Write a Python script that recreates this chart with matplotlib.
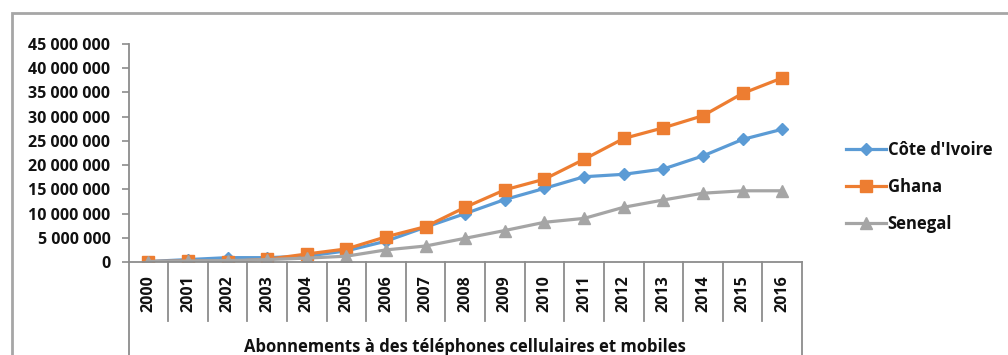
import numpy as np
import matplotlib
matplotlib.use('Agg')
import matplotlib.pyplot as plt
from matplotlib.lines import Line2D
from matplotlib.patches import Rectangle
from matplotlib.ticker import FuncFormatter

plt.rcParams['font.family'] = ['Open Sans', 'DejaVu Sans']

years = [str(y) for y in range(2000, 2017)]
cote_divoire = [0.1e6, 0.5e6, 0.9e6, 0.9e6, 1.2e6, 2.3e6, 4.3e6, 7.2e6, 10.0e6, 12.9e6,
                15.2e6, 17.6e6, 18.1e6, 19.2e6, 21.9e6, 25.3e6, 27.4e6]
ghana = [0.1e6, 0.2e6, 0.1e6, 0.55e6, 1.65e6, 2.7e6, 5.2e6, 7.3e6, 11.3e6, 14.9e6,
         17.1e6, 21.2e6, 25.5e6, 27.7e6, 30.2e6, 34.8e6, 38.0e6]
senegal = [0.1e6, 0.2e6, 0.3e6, 0.5e6, 0.8e6, 1.2e6, 2.5e6, 3.3e6, 4.9e6, 6.5e6,
           8.2e6, 9.0e6, 11.3e6, 12.8e6, 14.2e6, 14.7e6, 14.7e6]
series_names = ["Côte d'Ivoire", 'Ghana', 'Senegal']
axis_title = 'Abonnements à des téléphones cellulaires et mobiles'

W, H = 1008, 355
fig = plt.figure(figsize=(W / 100, H / 100), dpi=100)
ax = fig.add_axes([128.5 / W, 1 - 262 / H, (802 - 128.5) / W, (262 - 44) / H])

x = np.arange(len(years))
ax.plot(x, cote_divoire, color='#5B9BD5', lw=2.3, marker='D', ms=6.5, label=series_names[0])
ax.plot(x, ghana, color='#ED7D31', lw=2.3, marker='s', ms=8.5, label=series_names[1])
ax.plot(x, senegal, color='#A5A5A5', lw=2.3, marker='^', ms=8.5, label=series_names[2])

ax.set_xlim(-0.5, len(years) - 0.5)
ax.set_ylim(0, 45e6)
ax.set_yticks(np.arange(0, 45e6 + 1, 5e6))
ax.yaxis.set_major_formatter(FuncFormatter(lambda v, p: f'{int(v):,}'.replace(',', ' ')))
ax.tick_params(axis='y', length=5, width=1.2, color='#8C8C8C', labelsize=11.5, pad=8)
for t in ax.get_yticklabels():
    t.set_fontweight('bold')
    t.set_color('#111111')
ax.set_xticks([])
for s in ['top', 'right']:
    ax.spines[s].set_visible(False)
for s in ['left', 'bottom']:
    ax.spines[s].set_color('#8C8C8C')
    ax.spines[s].set_linewidth(1.3)

# category table under the axis
cell_h = (321 - 262) / (262 - 44)
full_h = (H - 262) / (262 - 44)
for i in range(len(years) + 1):
    depth = full_h if i in (0, len(years)) else cell_h
    ax.add_line(Line2D([i / len(years)] * 2, [0, -depth], transform=ax.transAxes,
                       color='#8C8C8C', lw=1.3, clip_on=False))
for i, yr in enumerate(years):
    ax.text(i, -6.5e6, yr, rotation=90, ha='center', va='center', fontsize=11.5,
            fontweight='bold', color='#111111', clip_on=False)
ax.text(0.5, -(347 - 262) / (262 - 44), axis_title,
        transform=ax.transAxes, ha='center', va='center', fontsize=12,
        fontweight='bold', color='#111111', clip_on=False)

# outer chart frame
fig.add_artist(Rectangle((12 / W, -0.2), 1.1, 1.2 - 13 / H, transform=fig.transFigure,
                         fill=False, ec='#A6A6A6', lw=2.0))

fig.legend(loc='center left', bbox_to_anchor=(831 / W, 1 - 187 / H), frameon=False,
           prop={'weight': 'bold', 'size': 12}, handlelength=2.4, handletextpad=0.1,
           labelspacing=1.15, labelcolor='#111111')

fig.savefig('out.png', dpi=100)
